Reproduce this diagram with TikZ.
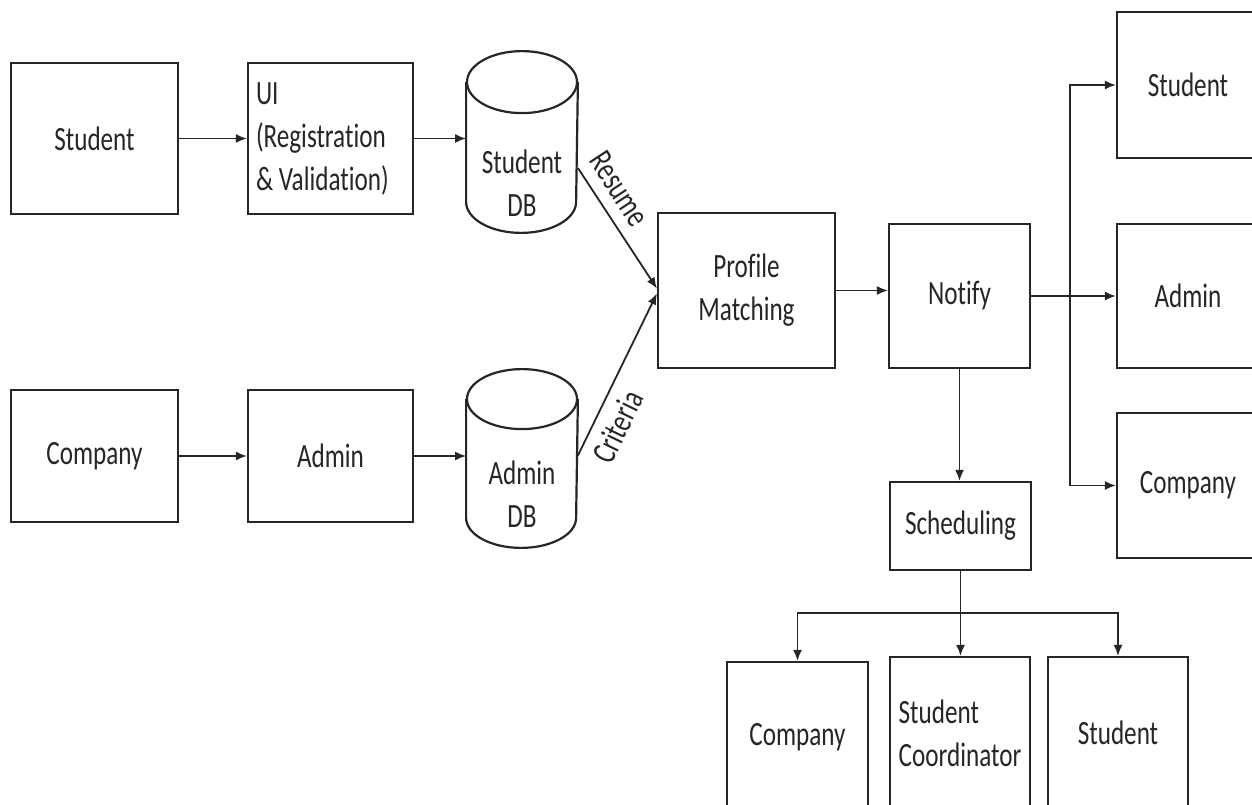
\documentclass[tikz,border=0pt]{standalone}
\usepackage{fontspec}
\setmainfont{Carlito}[FakeStretch=0.74,Ligatures=NoCommon]
\usetikzlibrary{arrows.meta}
\definecolor{ink}{gray}{0.15}
\newcommand{\diagfont}{\fontsize{34}{43}\selectfont}

\begin{document}
\begin{tikzpicture}[x=1pt,y=-1pt,ink,line width=1.8pt,
  >={Latex[length=11pt,width=9pt]},
  every node/.style={font=\diagfont},
  box/.style 2 args={draw,line width=2.2pt,minimum width=#1pt,minimum height=#2pt},
  db/.style 2 args={minimum width=#1pt,minimum height=#2pt,inner sep=0pt},
  dbline/.style={line width=2.2pt}]
\clip (0,0) rectangle (1252,805);
\fill[white] (0,0) rectangle (1252,805);
% input side
\node[box={167}{151}]  (stu)  at (94.5,138.5) { Student };
\node[box={165}{151},text width=149pt,align=left]
                       (ui)   at (330.5,138.5) { UI\\(Registration\\\&\hspace{5.7pt}Validation) };
\node[db={110}{180}]   (sdb)  at (522,142)    {};
\node[align=center]    (sdbt) at (522,183)    { Student\\DB };
\node[box={167}{132}]  (com)  at (94.5,456)   { Company };
\node[box={165}{132}]  (adm)  at (330.5,456)  { Admin };
\node[db={110}{177}]   (adb)  at (522,458.5)  {};
\node[align=center]    (adbt) at (522,494)    { Admin\\DB };
% the two cylinders
\draw[dbline] (sdb.north) ++(0,31) ellipse [x radius=55,y radius=31];
\draw[dbline] ([yshift=-31pt]sdb.north west) -- ([yshift=31pt]sdb.south west)
      arc [start angle=180,end angle=360,x radius=55pt,y radius=31pt] -- ([yshift=-31pt]sdb.north east);
\draw[dbline] (adb.north) ++(0,30) ellipse [x radius=55,y radius=30];
\draw[dbline] ([yshift=-30pt]adb.north west) -- ([yshift=30pt]adb.south west)
      arc [start angle=180,end angle=360,x radius=55pt,y radius=30pt] -- ([yshift=-30pt]adb.north east);
% matching and notification
\node[box={177}{155},align=center]
                       (pm)   at (746.5,290.5) { Profile\\Matching };
\node[box={141}{144}]  (ntf)  at (959.5,296)  { Notify };
\node[box={142}{146}]  (rstu) at (1188,85)    { Student };
\node[box={142}{144}]  (radm) at (1188,296)   { Admin };
\node[box={142}{145}]  (rcom) at (1188,485.5) { Company };
% scheduling
\node[box={141}{88}]   (sch)  at (960.5,526)  { Scheduling };
\node[box={141}{150}]  (bcom) at (797.5,737)  { Company };
\node[box={140}{152},align=left]
                       (bcoo) at (960,733)    { Student\\Coordinator };
\node[box={140}{152}]  (bstu) at (1118,733)   { Student };
\coordinate (nb) at (1070,296);
\coordinate (sb) at (960.5,613);
\draw[->] (stu) edge (ui);
\draw[->] (ui.east) -- (ui.east -| sdb.west);
\draw[->] (com) edge (adm);
\draw[->] (adm.east) -- (adm.east -| adb.west);
\draw[->] ([yshift=-26pt]sdb.east) -- node[sloped,above=8pt,pos=0.28] {Resume} ([yshift=2pt]pm.west);
\draw[->] ([yshift=3pt]adb.east) -- node[sloped,below=7pt,pos=0.24] {Criteria} ([yshift=-3pt]pm.west);
\draw[->] (pm.east) -- (pm.east -| ntf.west);
\draw[->] (ntf) edge (radm);
\draw[->] (nb) |- (rstu.west);
\draw[->] (nb) |- (rcom.west);
\draw[->] (ntf.south) -- (ntf.south |- sch.north);
\draw     (sch.south) -- (sb);
\draw[->] (sb) -| (bcom.north);
\draw[->] (sb) -| (bstu.north);
\draw[->] (sb) -- (sb |- bcoo.north);
\end{tikzpicture}
\end{document}
